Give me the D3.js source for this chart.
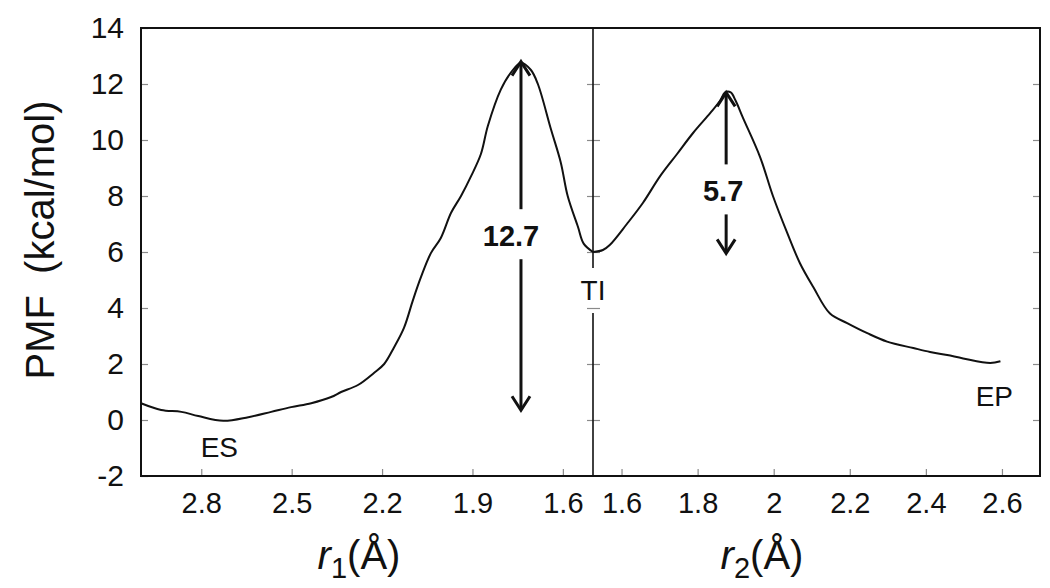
<!DOCTYPE html>
<html>
<head>
<meta charset="utf-8">
<script src="https://cdn.jsdelivr.net/npm/d3@7"></script>
<style>
  body { margin: 0; background: #fff; }
  svg text { font-family: "Liberation Sans", Arial, sans-serif; fill: #111; }
  .tick line { stroke: #8a8a8a; stroke-width: 1.2; }
  .domain { display: none; }
</style>
</head>
<body>
<svg id="chart" width="1050" height="588"></svg>
<script>
// PMF profile along r1 (left panel, reversed axis) and r2 (right panel)

var yTicks = [-2, 0, 2, 4, 6, 8, 10, 12, 14];
var r1Ticks = [2.8, 2.5, 2.2, 1.9, 1.6];
var r2Ticks = [1.6, 1.8, 2, 2.2, 2.4, 2.6];

// left branch: ES -> TS1 -> TI
var r1 = [3.0, 2.933, 2.866, 2.81, 2.727, 2.644, 2.568, 2.502, 2.435, 2.369,
	  2.336, 2.28, 2.227, 2.193, 2.16, 2.127, 2.097, 2.071, 2.038, 2.005,
	  1.971, 1.938, 1.905, 1.872, 1.849, 1.806, 1.773, 1.739, 1.706, 1.683,
	  1.64, 1.607, 1.584, 1.55, 1.531, 1.5];
var pmf1 = [0.6, 0.36, 0.29, 0.14, -0.03, 0.1, 0.29, 0.46, 0.6, 0.82,
	    1.0, 1.25, 1.68, 2.0, 2.6, 3.3, 4.3, 5.1, 5.96, 6.5,
	    7.4, 8.0, 8.7, 9.5, 10.5, 11.8, 12.4, 12.76, 12.5, 12.0,
	    10.4, 9.2, 8.0, 6.9, 6.3, 6.0];

// right branch: TI -> TS2 -> EP
var r2 = [1.525, 1.551, 1.569, 1.614, 1.656, 1.701, 1.746, 1.788, 1.833, 1.859,
	  1.872, 1.887, 1.9, 1.919, 1.964, 1.998, 2.035, 2.069, 2.104, 2.148,
	  2.193, 2.246, 2.298, 2.367, 2.411, 2.456, 2.498, 2.569, 2.596];
var pmf2 = [6.0, 6.07, 6.25, 7.0, 7.75, 8.7, 9.5, 10.25, 10.96, 11.4,
	    11.7, 11.7, 11.4, 10.8, 9.4, 8.0, 6.7, 5.6, 4.75, 3.8,
	    3.46, 3.1, 2.8, 2.57, 2.43, 2.32, 2.2, 2.04, 2.1];

// barrier arrows
var barrierLabels = ["12.7", "5.7"];
var barrierPanel = [0, 1];
var barrierR = [1.739, 1.875];
var barrierTop = [12.8, 11.7];
var barrierBottom = [0.35, 5.95];
var barrierLabelAt = [6.6, 8.2];

var stateLabels = ["ES", "TI", "EP"];
var statePanel = [0, 0, 1];
var stateR = [2.74, 1.5, 2.58];
var statePmf = [-0.95, 4.65, 0.85];

var svg = d3.select("#chart");

var y = d3.scaleLinear().domain([-2, 14]).range([476, 28]);
var x1 = d3.scaleLinear().domain([3.0, 1.5]).range([141, 593]);
var x2 = d3.scaleLinear().domain([1.525, 2.7]).range([593, 1040]);
var xs = [x1, x2];

var plain = function(d){ return String(d); };

var frame = svg.append("g");

// y ticks (left frame, divider both sides, right frame)
frame.append("g")
    .attr("transform", "translate(141,0)")
    .call(d3.axisLeft(y).tickValues(yTicks).tickSize(-7).tickPadding(17).tickFormat(plain))
    .call(function(g){
	g.selectAll("text").style("font-size", "30px").attr("fill", "#111");
    });

frame.append("g")
    .attr("transform", "translate(587,0)")
    .call(d3.axisRight(y).tickValues(yTicks.slice(1, -1)).tickSize(13).tickFormat(""));

frame.append("g")
    .attr("transform", "translate(1040,0)")
    .call(d3.axisLeft(y).tickValues(yTicks.slice(1, -1)).tickSize(7).tickFormat(""));

var xTicks = [r1Ticks, r2Ticks];
xs.forEach(function(sc, i){
    frame.append("g")
	.attr("transform", "translate(0,476)")
	.call(d3.axisBottom(sc).tickValues(xTicks[i]).tickSize(-7).tickPadding(16)
	      .tickFormat(plain))
	.call(function(g){
	    g.selectAll("text").style("font-size", "29px").attr("fill", "#111");
	});
});

// the box
frame.append("rect")
    .attr("x", 141).attr("y", 28)
    .attr("width", 1040 - 141).attr("height", 476 - 28)
    .attr("fill", "none").attr("stroke", "#111").attr("stroke-width", 2);

// divider, broken for the TI label
frame.append("line")
    .attr("x1", 593).attr("x2", 593).attr("y1", 28).attr("y2", 268)
    .attr("stroke", "#111").attr("stroke-width", 1.6);
frame.append("line")
    .attr("x1", 593).attr("x2", 593).attr("y1", 313).attr("y2", 476)
    .attr("stroke", "#111").attr("stroke-width", 1.6);

// curves
var line = function(sc){
    return d3.line()
	.x(function(d){ return sc(d[0]); })
	.y(function(d){ return y(d[1]); })
	.curve(d3.curveCatmullRom.alpha(0.5));
};

svg.append("path")
    .datum(d3.zip(r1, pmf1))
    .attr("d", line(x1))
    .attr("fill", "none").attr("stroke", "#111").attr("stroke-width", 2);

svg.append("path")
    .datum(d3.zip(r2, pmf2))
    .attr("d", line(x2))
    .attr("fill", "none").attr("stroke", "#111").attr("stroke-width", 2);

// arrows with open heads
var head = function(g, px, py, dir){
    g.append("path")
	.attr("d", "M" + (px - 9) + "," + (py + dir * 14)
	      + " L" + px + "," + py
	      + " L" + (px + 9) + "," + (py + dir * 14))
	.attr("fill", "none").attr("stroke", "#111").attr("stroke-width", 3);
};

barrierLabels.forEach(function(lab, i){
    var sc = xs[barrierPanel[i]];
    var px = sc(barrierR[i]);
    var yt = y(barrierTop[i]), yb = y(barrierBottom[i]), yl = y(barrierLabelAt[i]);
    var g = svg.append("g");
    g.append("line")
	.attr("x1", px).attr("x2", px).attr("y1", yt + 1).attr("y2", yl - 26)
	.attr("stroke", "#111").attr("stroke-width", 3);
    g.append("line")
	.attr("x1", px).attr("x2", px).attr("y1", yl + 24).attr("y2", yb - 1)
	.attr("stroke", "#111").attr("stroke-width", 3);
    head(g, px, yt, 1);
    head(g, px, yb, -1);
    g.append("text")
	.attr("x", px - (i == 0 ? 10 : 3)).attr("y", yl)
	.attr("text-anchor", "middle").attr("dy", "0.36em")
	.style("font-size", "29px").style("font-weight", "bold")
	.text(lab);
});

stateLabels.forEach(function(lab, i){
    svg.append("text")
	.attr("x", xs[statePanel[i]](stateR[i]))
	.attr("y", y(statePmf[i]))
	.attr("text-anchor", "middle").attr("dy", "0.36em")
	.style("font-size", "28px")
	.text(lab);
});

// axis titles
svg.append("text")
    .attr("transform", "translate(54,240) rotate(-90)")
    .attr("text-anchor", "middle")
    .style("font-size", "40px").style("word-spacing", "10px")
    .text("PMF (kcal/mol)");

var xTitle = function(cx, sub){
    var t = svg.append("text")
	.attr("x", cx).attr("y", 569)
	.attr("text-anchor", "middle")
	.style("font-size", "40px");
    t.append("tspan").style("font-style", "italic").text("r");
    t.append("tspan").attr("dy", 9).style("font-size", "29px").text(sub);
    t.append("tspan").attr("dy", -9).text("(Å)");
};
xTitle(359, "1");
xTitle(762, "2");
</script>
</body>
</html>
